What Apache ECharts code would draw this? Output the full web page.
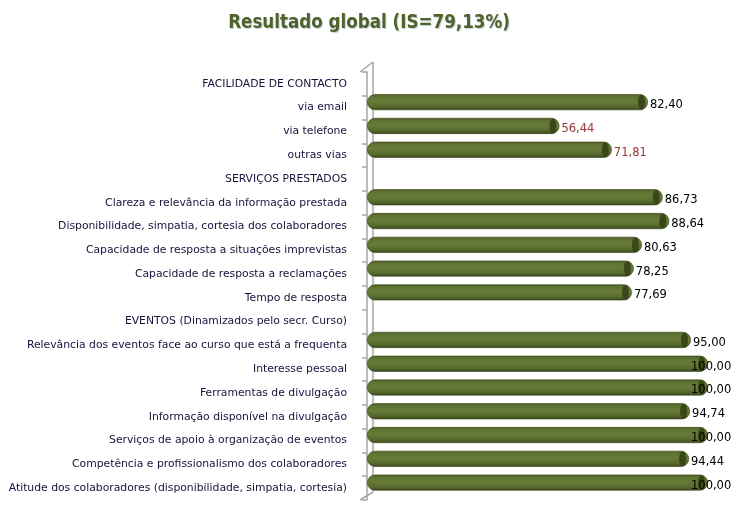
<!DOCTYPE html>
<html>
<head>
<meta charset="utf-8">
<script src="https://cdn.jsdelivr.net/npm/echarts@6/dist/echarts.min.js"></script>
<style>html,body{margin:0;padding:0;background:#fff}#c{width:740px;height:508px}</style>
</head>
<body>
<div id="c"></div>
<script>
const titleText = 'Resultado global (IS=79,13%)';
const categories = [
  'FACILIDADE DE CONTACTO',
  'via email',
  'via telefone',
  'outras vias',
  'SERVIÇOS PRESTADOS',
  'Clareza e relevância da informação prestada',
  'Disponibilidade, simpatia, cortesia dos colaboradores',
  'Capacidade de resposta a situações imprevistas',
  'Capacidade de resposta a reclamações',
  'Tempo de resposta',
  'EVENTOS (Dinamizados pelo secr. Curso)',
  'Relevância dos eventos face ao curso que está a frequenta',
  'Interesse pessoal',
  'Ferramentas de divulgação',
  'Informação disponível na divulgação',
  'Serviços de apoio à organização de eventos',
  'Competência e profissionalismo dos colaboradores',
  'Atitude dos colaboradores (disponibilidade, simpatia, cortesia)'
];
const values = [null, 82.40, 56.44, 71.81, null, 86.73, 88.64, 80.63, 78.25, 77.69, null, 95.00, 100.00, 100.00, 94.74, 100.00, 94.44, 100.00];
const xMin = 0, xMax = 100;

const fmt = v => v.toFixed(2).replace('.', ',');
const labelData = values.map(v => v == null ? null : {
  value: v,
  label: {
    color: v < 75 ? '#953735' : '#000000',
    offset: v >= 99.5 ? [-19, 3] : [0, 3]
  }
});

const chart = echarts.init(document.getElementById('c'), null, {renderer: 'canvas'});
const axisFont = '"DejaVu Sans", Verdana, sans-serif';
chart.setOption({
  animation: false,
  title: {
    text: titleText,
    left: 364, top: 9, textAlign: 'center',
    textStyle: {
      fontFamily: '"DejaVu Sans Condensed", "Liberation Sans", sans-serif',
      fontSize: 18.6, fontWeight: 'bold', color: '#4f6228',
      textShadowColor: 'rgba(80,110,160,0.35)', textShadowBlur: 1, textShadowOffsetX: 1, textShadowOffsetY: 1
    }
  },
  grid: [
    {left: 367, right: 32, top: 72, bottom: 8},
    {left: 367, right: 32, top: 66.5, bottom: 13.5}
  ],
  xAxis: [
    {gridIndex: 0, type: 'value', min: xMin, max: xMax, show: false},
    {gridIndex: 1, type: 'value', min: xMin, max: xMax, show: false}
  ],
  yAxis: [
    {
      gridIndex: 0, type: 'category', data: categories, inverse: true, offset: 7,
      axisLine: {show: true, lineStyle: {color: '#a6a6a6', width: 1.5}},
      axisTick: {show: true, length: 5, interval: 0, lineStyle: {color: '#a6a6a6', width: 1.5}},
      axisLabel: {interval: 0, margin: 13, fontFamily: axisFont, fontSize: 10.8, color: '#14143c'},
      splitLine: {show: false}
    },
    {
      gridIndex: 1, type: 'category', data: categories, inverse: true, show: false
    }
  ],
  graphic: [
    {type: 'line', shape: {x1: 373, y1: 62, x2: 373, y2: 492}, style: {stroke: '#a6a6a6', lineWidth: 1.5}, z: 0},
    {type: 'line', shape: {x1: 360, y1: 72, x2: 373, y2: 62}, style: {stroke: '#a6a6a6', lineWidth: 1.5}, z: 0},
    {type: 'line', shape: {x1: 360, y1: 500, x2: 373, y2: 492}, style: {stroke: '#a6a6a6', lineWidth: 1.5}, z: 0}
  ],
  series: [
    {
      type: 'bar', xAxisIndex: 1, yAxisIndex: 1, data: values, barWidth: 16, barGap: '-100%',
      itemStyle: {
        borderRadius: 8,
        borderColor: '#3a4619', borderWidth: 0.6,
        color: new echarts.graphic.LinearGradient(0, 0, 0, 1, [
          {offset: 0, color: '#4a5a23'},
          {offset: 0.15, color: '#5e7131'},
          {offset: 0.45, color: '#687c37'},
          {offset: 0.8, color: '#56682c'},
          {offset: 1, color: '#35421a'}
        ])
      },
      z: 2
    },
    {
      type: 'pictorialBar', xAxisIndex: 1, yAxisIndex: 1, data: values,
      symbol: 'circle', symbolSize: [7, 15], symbolPosition: 'end', symbolOffset: [-3, 0],
      itemStyle: {color: '#3a4719'},
      silent: true, z: 3
    },
    {
      type: 'bar', xAxisIndex: 1, yAxisIndex: 1, data: labelData, barWidth: 16, barGap: '-100%',
      itemStyle: {color: 'rgba(0,0,0,0)'},
      label: {
        show: true, position: 'right', distance: 2,
        fontFamily: axisFont, fontSize: 11.5,
        formatter: p => fmt(p.value)
      },
      silent: true, z: 5
    }
  ]
});
</script>
</body>
</html>
